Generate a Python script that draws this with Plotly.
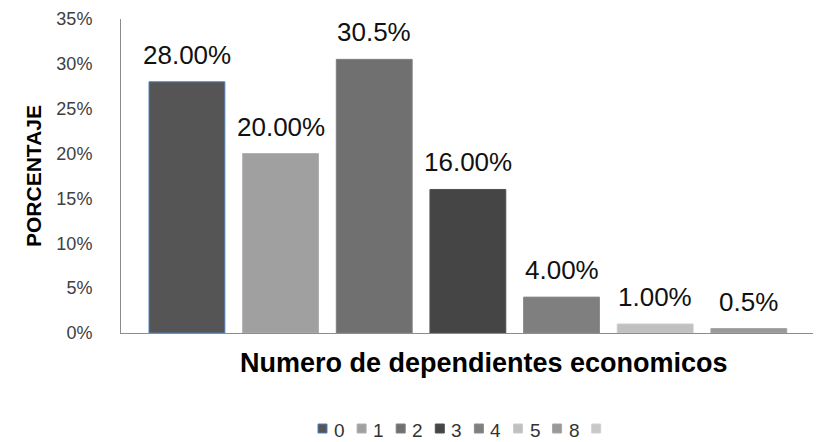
import plotly.graph_objects as go

categories = ["0", "1", "2", "3", "4", "5", "8"]
values = [28.0, 20.0, 30.5, 16.0, 4.0, 1.0, 0.5]
labels = ["28.00%", "20.00%", "30.5%", "16.00%", "4.00%", "1.00%", "0.5%"]
colors = ["#555555", "#a0a0a0", "#707070", "#454545", "#7f7f7f", "#c0c0c0", "#999999"]
outlines = ["#4f81bd", "#b0b0b0", "#808080", "#505050", "#8c8c8c", "#cccccc", "#a6a6a6"]
legend_names = categories + [""]
legend_colors = colors + ["#c8c8c8"]
legend_outlines = outlines + ["#d0d0d0"]
y_ticks = [0, 5, 10, 15, 20, 25, 30, 35]
y_ticktext = [f"{t}%" for t in y_ticks]
x_title = "Numero de dependientes economicos"
y_title = "PORCENTAJE"

FONT = "Liberation Sans, Arial, sans-serif"

# layout geometry (the page has an 8px body margin)
W, H = 813, 434
ML, MT, MR = 113, 11, 1
PW = W - ML - MR
PH = 314
MB = H - MT - PH

fig = go.Figure()
for cat, val, col, oc in zip(categories, values, colors, outlines):
    fig.add_trace(go.Bar(
        x=[cat], y=[val], name=cat, width=0.81,
        marker=dict(color=col, line=dict(color=oc, width=1)),
        hoverinfo="skip", showlegend=False,
    ))

for i, (val, lab) in enumerate(zip(values, labels)):
    fig.add_annotation(x=i, y=val, text=lab, showarrow=False, yanchor="middle",
                       yshift=27, font=dict(family=FONT, size=26, color="#111111"))

# x-axis title (slightly right of plot centre, as in the original)
fig.add_annotation(xref="paper", yref="paper", x=363 / PW, y=-30 / PH,
                   text=f"<b>{x_title}</b>", showarrow=False,
                   xanchor="center", yanchor="middle",
                   font=dict(family=FONT, size=27, color="#000000"))

# manual legend (compact, like the original)
leg_left, leg_step, sq = 197, 39.1, 9   # pixels from plot-area left
sq_top, sq_bot, txt_mid = 91, 100, 97    # pixels below plot-area bottom
for i, (nm, col, oc) in enumerate(zip(legend_names, legend_colors, legend_outlines)):
    x0 = leg_left + leg_step * i
    fig.add_shape(type="rect", xref="paper", yref="paper",
                  x0=x0 / PW, x1=(x0 + sq) / PW, y0=-sq_bot / PH, y1=-sq_top / PH,
                  fillcolor=col, line=dict(color=oc, width=1))
    if nm:
        fig.add_annotation(xref="paper", yref="paper", x=(x0 + 14) / PW, y=-txt_mid / PH,
                           text=nm, showarrow=False, xanchor="left", yanchor="middle",
                           font=dict(family=FONT, size=19, color="#333333"))

fig.update_layout(
    width=W, height=H,
    margin=dict(l=ML, r=MR, t=MT, b=MB, autoexpand=False),
    paper_bgcolor="white", plot_bgcolor="white",
    barmode="overlay",
    font=dict(family=FONT, color="#404040"),
    showlegend=False,
    xaxis=dict(type="category", categoryorder="array", categoryarray=categories,
               range=[-0.704, 6.76], showticklabels=False, ticks="",
               showline=True, linecolor="#8c8c8c", linewidth=1, automargin=False,
               showgrid=False, zeroline=False),
    yaxis=dict(range=[0, 35], tickvals=y_ticks, ticktext=y_ticktext,
               tickfont=dict(family=FONT, size=18, color="#404040"),
               ticklabeloverflow="allow",
               showline=True, linecolor="#8c8c8c", linewidth=1, automargin=False,
               showgrid=False, zeroline=False, ticks="", ticklabelstandoff=24,
               title=dict(text=f"<b>{y_title}</b>", font=dict(family=FONT, size=21, color="#000000"),
                          standoff=9)),
)

fig.write_html("out.html")
